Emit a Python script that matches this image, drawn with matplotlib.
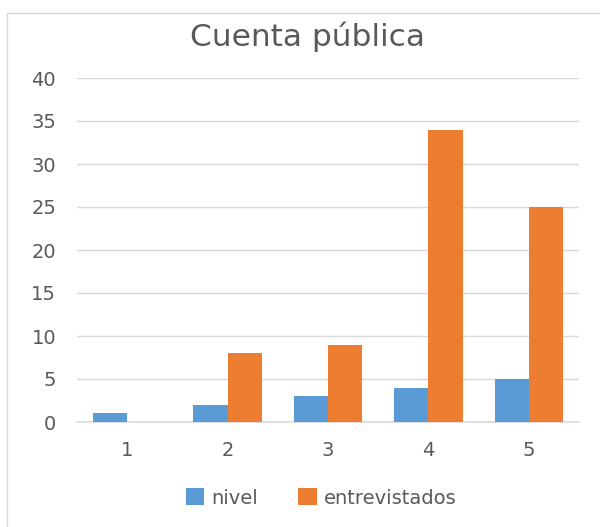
import numpy as np
import matplotlib
matplotlib.use("Agg")
import matplotlib.pyplot as plt
from matplotlib.patches import Rectangle

plt.rcParams["font.family"] = ["DejaVu Sans"]

# -------- DATA --------
categorias = ["1", "2", "3", "4", "5"]
nivel = [1, 2, 3, 4, 5]
entrevistados = [0, 8, 9, 34, 25]

AZUL = "#5B9BD5"
NARANJA = "#ED7D31"
GRIS_TEXTO = "#595959"
GRIS_LINEA = "#D9D9D9"

fig = plt.figure(figsize=(6, 5.27), dpi=100)
ax = fig.add_axes([77 / 600, 1 - 422 / 527, 502 / 600, 344 / 527])

# marco del grafico (borde gris claro, sigue fuera de la imagen)
fig.patches.append(Rectangle((7 / 600, -0.1), 1, 1.1 - 13 / 527, transform=fig.transFigure,
                             fill=False, edgecolor=GRIS_LINEA, linewidth=1))

x = np.arange(len(categorias))
ancho = 0.34
ax.bar(x - ancho / 2, nivel, ancho, color=AZUL, label="nivel", zorder=3)
ax.bar(x + ancho / 2, entrevistados, ancho, color=NARANJA, label="entrevistados", zorder=3)

ax.set_xlim(-0.5, len(categorias) - 0.5)
ax.set_ylim(0, 40)
ax.set_yticks(range(0, 41, 5))
ax.set_xticks(x)
ax.set_xticklabels(categorias)

ax.grid(axis="y", color=GRIS_LINEA, linewidth=1, zorder=0)
for lado in ["top", "right", "left"]:
    ax.spines[lado].set_visible(False)
ax.spines["bottom"].set_color(GRIS_LINEA)
ax.spines["bottom"].set_linewidth(1.2)
ax.tick_params(axis="both", length=0, labelsize=14, labelcolor=GRIS_TEXTO)
ax.tick_params(axis="x", pad=14)
ax.tick_params(axis="y", pad=15)

fig.text(307 / 600, 1 - 37 / 527, "Cuenta pública", ha="center", va="center",
         fontsize=22.5, color=GRIS_TEXTO)

fig.legend(loc="center", bbox_to_anchor=(321 / 600, 1 - 498 / 527), ncol=2,
           frameon=False, fontsize=14, labelcolor=GRIS_TEXTO,
           handlelength=0.95, handleheight=0.95, handletextpad=0.35, columnspacing=2.1)

fig.savefig("out.png", dpi=100, facecolor="white")
